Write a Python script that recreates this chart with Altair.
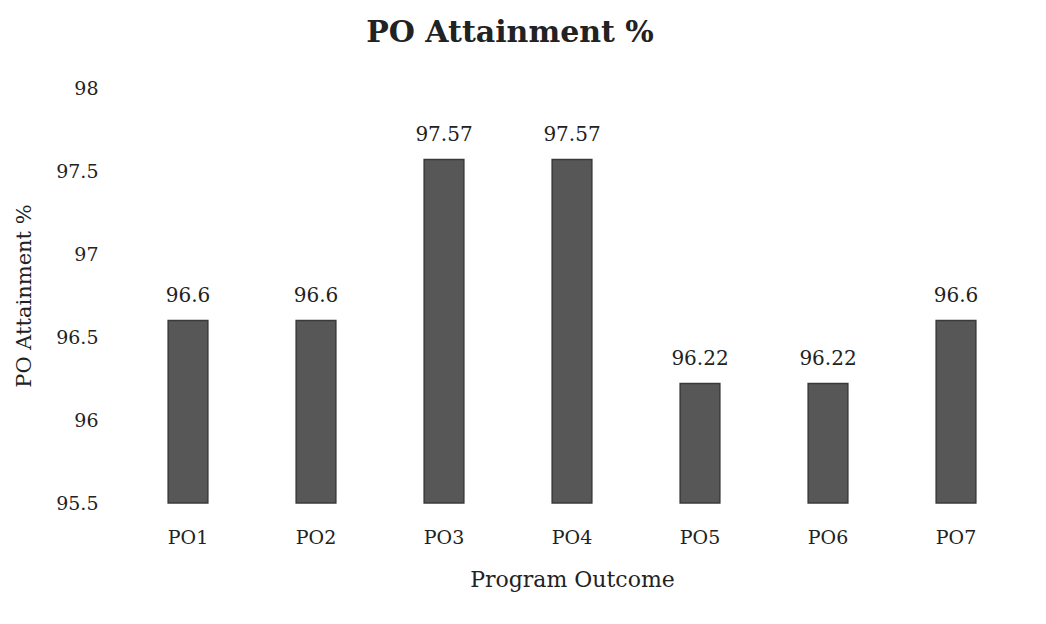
import altair as alt
import pandas as pd

outcomes = ["PO1", "PO2", "PO3", "PO4", "PO5", "PO6", "PO7"]
attainment = [96.6, 96.6, 97.57, 97.57, 96.22, 96.22, 96.6]
y_ticks = [95.5, 96, 96.5, 97, 97.5, 98]
base_value = 95.5

df = pd.DataFrame({"outcome": outcomes, "value": attainment})
df["base"] = base_value

FONT = "DejaVu Serif"

x = alt.X("outcome:N", sort=outcomes,
          scale=alt.Scale(paddingInner=0.69, paddingOuter=0.345),
          axis=alt.Axis(title="Program Outcome", labelAngle=0, labelFontSize=19,
                        labelPadding=25, titleFontSize=22, titlePadding=22,
                        domain=False, ticks=False, labelColor="#222",
                        titleColor="#222", titleFontWeight="normal"))
y = alt.Y("value:Q",
          scale=alt.Scale(domain=[95.5, 98], zero=False, nice=False),
          axis=alt.Axis(title="PO Attainment %", values=y_ticks, labelFontSize=19,
                        labelPadding=26, titleFontSize=21, titlePadding=21,
                        domain=False, ticks=False, grid=False, labelColor="#222",
                        titleColor="#222", titleFontWeight="normal",
                        format="~g"))

bars = alt.Chart(df).mark_bar(color="#575757", stroke="#3a3a3a", strokeWidth=1.5).encode(
    x=x, y=y, y2="base:Q"
)

labels = alt.Chart(df).mark_text(dy=-14, fontSize=20, font=FONT, color="#222",
                                 baseline="bottom").encode(
    x=alt.X("outcome:N", sort=outcomes),
    y="value:Q",
    text=alt.Text("value:Q", format="~g"),
)

chart = (bars + labels).properties(
    width=896,
    height=415,
    padding={"left": 116, "top": 80, "right": 10, "bottom": 116},
    autosize=alt.AutoSizeParams(type="none"),
    title=alt.TitleParams("PO Attainment %", fontSize=30, font=FONT, fontWeight="bold",
                          color="#222", offset=31, dx=-62, anchor="middle"),
).configure(font=FONT).configure_view(stroke=None).configure_axis(
    labelFont=FONT, titleFont=FONT
)

chart.save("out.html", embed_options={"renderer": "svg", "actions": False})
